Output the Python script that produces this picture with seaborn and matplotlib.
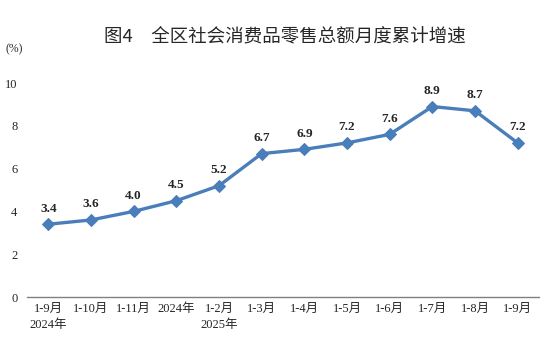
import pandas as pd
import matplotlib.pyplot as plt
import seaborn as sns

# cumulative growth of retail sales, %
periods = ['1-9月\n2024年', '1-10月', '1-11月', '2024年', '1-2月\n2025年', '1-3月',
           '1-4月', '1-5月', '1-6月', '1-7月', '1-8月', '1-9月']
growth = [3.4, 3.6, 4.0, 4.5, 5.2, 6.7, 6.9, 7.2, 7.6, 8.9, 8.7, 7.2]
y_ticks = [0, 2, 4, 6, 8, 10]

sns.set_style('white')
plt.rcParams['font.family'] = ['Liberation Serif', 'Noto Sans CJK SC']

df = pd.DataFrame({'period': periods, 'growth': growth})

fig = plt.figure(figsize=(5.54, 3.54), dpi=100)
ax = fig.add_axes([27 / 554, 57 / 354, 512 / 554, 214 / 354])

sns.lineplot(data=df, x='period', y='growth', color='#4A7EBB', linewidth=2.4,
             marker='D', markersize=6.5, markeredgecolor='#4A7EBB', sort=False, ax=ax)

for i, v in enumerate(growth):
    ax.annotate(f'{v:.1f}', (i, v), xytext=(0, 7), textcoords='offset points',
                ha='center', va='bottom', fontsize=9.5, fontweight='bold')

ax.set_xlim(-0.5, len(periods) - 0.5)
ax.set_ylim(0, 10)
ax.set_yticks(y_ticks)
ax.tick_params(axis='y', length=0, pad=7, labelsize=9)
ax.tick_params(axis='x', length=0, pad=4, labelsize=9)
for lbl in ax.get_xticklabels():
    lbl.set_linespacing(1.5)
ax.set_xlabel('')
ax.set_ylabel('')
for side in ['top', 'right', 'left']:
    ax.spines[side].set_visible(False)
ax.spines['bottom'].set_color('#808080')
ax.spines['bottom'].set_linewidth(1)

fig.text(285 / 554, 1 - 36 / 354, '图4　全区社会消费品零售总额月度累计增速',
         ha='center', va='center', fontsize=13.3, family=['Noto Sans CJK SC'])
fig.text(5 / 554, 1 - 49 / 354, '(%)', ha='left', va='center', fontsize=8.5)

fig.savefig('out.png', dpi=100)
